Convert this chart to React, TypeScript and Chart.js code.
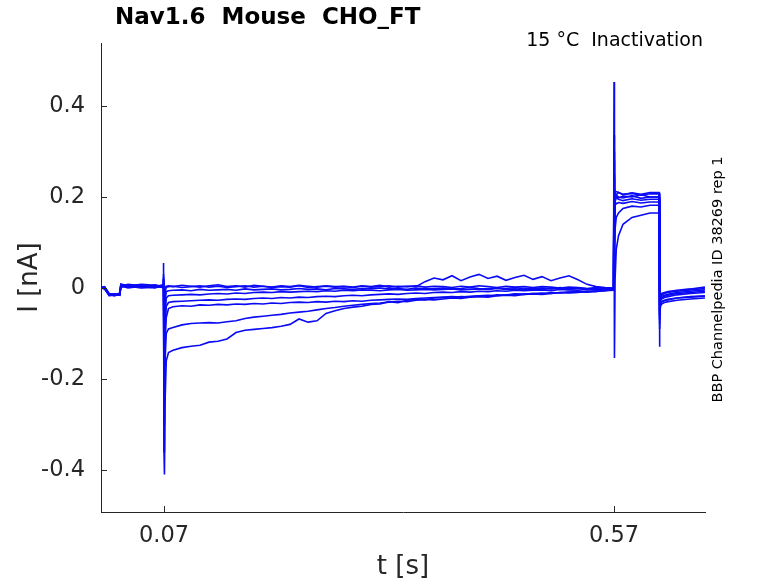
import React, { useEffect, useRef } from "react";
import { Chart, registerables } from "chart.js";

Chart.register(...registerables);

// time samples (s): pre, step-on transient, prepulse, test pulse, after test pulse
const timeS = [
  0, 0.004, 0.008, 0.009, 0.015, 0.021, 0.022, 0.03, 0.045, 0.06, 0.069,
  0.0695, 0.07, 0.0705, 0.0712, 0.0725, 0.075,
  0.08, 0.09, 0.1, 0.11, 0.12, 0.13, 0.14, 0.15, 0.16, 0.17,
  0.18, 0.19, 0.2, 0.21, 0.22, 0.23, 0.24, 0.25, 0.26, 0.27,
  0.28, 0.29, 0.3, 0.31, 0.32, 0.33, 0.34, 0.35, 0.36, 0.37,
  0.38, 0.39, 0.4, 0.41, 0.42, 0.43, 0.44, 0.45, 0.46, 0.47,
  0.48, 0.49, 0.5, 0.51, 0.52, 0.53, 0.54, 0.55, 0.56,
  0.5695, 0.57, 0.5705, 0.5712, 0.5725, 0.575, 0.58, 0.59, 0.6, 0.61,
  0.62, 0.6205, 0.621, 0.6217, 0.623, 0.626, 0.63, 0.64, 0.655, 0.671,
];

// current traces (nA)
const traceA = [
  0.001, -0.002, -0.012, -0.015, -0.017, -0.014, 0.004, 0.002, 0.006, 0.001, 0.004,
  0.055, -0.36, -0.41, -0.25, -0.16, -0.142,
  -0.137, -0.131, -0.128, -0.126, -0.119, -0.117, -0.112, -0.098, -0.093, -0.091,
  -0.089, -0.087, -0.084, -0.08, -0.068, -0.075, -0.072, -0.056, -0.05, -0.045,
  -0.042, -0.04, -0.036, -0.035, -0.03, -0.032, -0.027, -0.025, -0.026, -0.022,
  -0.021, -0.022, -0.019, -0.02, -0.017, -0.018, -0.015, -0.016, -0.013, -0.014,
  -0.012, -0.013, -0.01, -0.011, -0.009, -0.01, -0.007, -0.008, -0.005,
  -0.004, 0.453, 0.05, 0.2, 0.205, 0.2, 0.198, 0.203, 0.197, 0.2,
  0.2, -0.129, -0.06, -0.04, -0.035, -0.032, -0.03, -0.027, -0.024, -0.022,
];
const traceB = [
  0.003, 0.0, -0.01, -0.013, -0.015, -0.012, 0.006, 0.003, 0.001, 0.007, 0.002,
  0.02, -0.36, -0.3, -0.16, -0.1, -0.09,
  -0.087, -0.081, -0.078, -0.077, -0.076, -0.077, -0.074, -0.072, -0.067, -0.064,
  -0.062, -0.06, -0.058, -0.055, -0.053, -0.051, -0.048, -0.045, -0.043, -0.04,
  -0.038, -0.036, -0.034, -0.033, -0.031, -0.029, -0.03, -0.027, -0.025, -0.026,
  -0.024, -0.022, -0.023, -0.02, -0.019, -0.02, -0.017, -0.016, -0.017, -0.014,
  -0.013, -0.014, -0.012, -0.01, -0.011, -0.009, -0.008, -0.007, -0.006,
  -0.003, 0.336, 0.1, 0.19, 0.205, 0.21, 0.206, 0.208, 0.204, 0.207,
  0.207, -0.09, -0.05, -0.035, -0.03, -0.028, -0.026, -0.022, -0.019, -0.017,
];
const traceC = [
  -0.001, 0.002, -0.011, -0.014, -0.016, -0.013, 0.002, 0.005, 0.003, 0.0, 0.006,
  0.03, -0.3, -0.25, -0.12, -0.065, -0.045,
  -0.041, -0.039, -0.04, -0.037, -0.038, -0.036, -0.037, -0.035, -0.036, -0.034,
  -0.035, -0.033, -0.034, -0.032, -0.031, -0.032, -0.03, -0.031, -0.029, -0.03,
  -0.028, -0.029, -0.027, -0.026, -0.025, -0.024, -0.025, -0.023, -0.022, -0.021,
  -0.02, -0.019, -0.02, -0.018, -0.017, -0.016, -0.017, -0.015, -0.014, -0.013,
  -0.012, -0.011, -0.012, -0.01, -0.009, -0.008, -0.009, -0.007, -0.006,
  -0.005, 0.28, 0.15, 0.2, 0.198, 0.195, 0.192, 0.196, 0.193, 0.195,
  0.195, -0.08, -0.04, -0.028, -0.024, -0.021, -0.019, -0.015, -0.012, -0.01,
];
const traceD = [
  0.002, -0.001, -0.013, -0.016, -0.014, -0.015, 0.005, 0.0, 0.004, 0.003, 0.001,
  0.025, -0.25, -0.2, -0.09, -0.04, -0.032,
  -0.03, -0.029, -0.028, -0.027, -0.026, -0.027, -0.025, -0.024, -0.025, -0.023,
  -0.022, -0.023, -0.021, -0.022, -0.02, -0.021, -0.019, -0.018, -0.019, -0.017,
  -0.016, -0.017, -0.015, -0.014, -0.013, -0.014, -0.012, -0.011, -0.012, -0.01,
  -0.009, -0.01, -0.008, -0.009, -0.007, -0.008, -0.006, -0.007, -0.005, -0.006,
  -0.005, -0.004, -0.006, -0.003, -0.004, -0.005, -0.003, -0.004, -0.003,
  -0.002, 0.25, 0.18, 0.21, 0.212, 0.21, 0.205, 0.209, 0.206, 0.21,
  0.21, -0.07, -0.035, -0.022, -0.018, -0.016, -0.014, -0.01, -0.007, -0.004,
];
const traceE = [
  0.0, 0.003, -0.009, -0.012, -0.015, -0.011, 0.003, 0.006, 0.002, 0.005, 0.003,
  0.02, -0.2, -0.15, -0.06, -0.022, -0.017,
  -0.016, -0.015, -0.014, -0.015, -0.013, -0.012, -0.013, -0.011, -0.012, -0.01,
  -0.009, -0.01, -0.008, -0.009, -0.008, -0.007, -0.008, -0.006, -0.007, -0.005,
  -0.006, -0.004, -0.005, -0.006, -0.004, -0.003, -0.005, -0.004, -0.003, -0.004,
  -0.003, -0.002, -0.004, -0.003, -0.002, -0.003, -0.001, -0.003, -0.002, -0.004,
  -0.002, -0.003, -0.001, -0.002, -0.003, -0.001, -0.002, -0.003, -0.002,
  -0.003, 0.22, 0.2, 0.19, 0.185, 0.188, 0.186, 0.19, 0.187, 0.189,
  0.189, -0.06, -0.03, -0.02, -0.015, -0.012, -0.01, -0.007, -0.004, -0.001,
];
const traceF = [
  0.001, -0.002, -0.014, -0.017, -0.016, -0.012, 0.007, 0.004, 0.0, 0.002, 0.005,
  0.015, -0.15, -0.1, -0.03, -0.008, -0.006,
  -0.005, -0.004, -0.006, -0.003, -0.005, -0.004, -0.003, -0.005, -0.002, -0.004,
  -0.003, -0.002, -0.004, -0.003, -0.001, -0.003, -0.002, -0.004, -0.001, -0.002,
  -0.003, -0.001, -0.002, 0.0, -0.002, -0.001, -0.003, 0.0, -0.002, -0.001,
  0.0, -0.002, -0.001, 0.001, -0.001, -0.002, 0.0, -0.001, 0.001, -0.002,
  -0.001, 0.0, -0.002, 0.001, -0.001, 0.0, -0.002, -0.001, 0.0,
  -0.001, 0.3, -0.154, 0.02, 0.085, 0.115, 0.14, 0.155, 0.16, 0.165,
  0.165, -0.05, -0.025, -0.016, -0.012, -0.01, -0.008, -0.005, -0.002, 0.002,
];
const traceG = [
  0.002, 0.001, -0.011, -0.013, -0.017, -0.014, 0.004, 0.008, 0.005, 0.003, 0.007,
  0.02, -0.12, -0.06, -0.01, 0.002, 0.003,
  0.004, 0.001, 0.003, 0.005, 0.002, 0.004, 0.001, 0.003, 0.005, 0.002,
  0.004, 0.001, 0.003, 0.002, 0.005, 0.001, 0.003, 0.004, 0.002, 0.003,
  0.001, 0.004, 0.002, 0.003, 0.005, 0.002, 0.004, 0.003, 0.014, 0.022,
  0.018, 0.027, 0.016, 0.024, 0.03, 0.021, 0.026, 0.017, 0.023, 0.028,
  0.019, 0.025, 0.016, 0.022, 0.027, 0.018, 0.008, 0.003, 0.001,
  0.0, 0.2, 0.06, 0.13, 0.155, 0.165, 0.175, 0.18, 0.178, 0.182,
  0.182, -0.06, -0.035, -0.025, -0.021, -0.018, -0.016, -0.012, -0.01, -0.007,
];
const traceH = [
  -0.001, 0.002, -0.01, -0.014, -0.013, -0.016, 0.009, 0.005, 0.008, 0.006, 0.004,
  0.01, -0.08, -0.03, 0.0, 0.004, 0.005,
  0.003, 0.006, 0.004, 0.002, 0.005, 0.007, 0.003, 0.005, 0.002, 0.006,
  0.004, 0.002, 0.005, 0.003, 0.006, 0.004, 0.002, 0.005, 0.003, 0.004,
  0.002, 0.005, 0.003, 0.006, 0.002, 0.004, 0.003, 0.005, 0.002, 0.004,
  0.003, 0.001, 0.004, 0.002, 0.005, 0.003, 0.001, 0.004, 0.002, 0.003,
  0.001, 0.003, 0.002, 0.0, 0.002, 0.001, -0.001, 0.001, 0.0,
  -0.002, 0.24, 0.12, 0.19, 0.2, 0.198, 0.202, 0.2, 0.205, 0.2,
  0.2, -0.07, -0.045, -0.035, -0.03, -0.027, -0.025, -0.022, -0.02, -0.018,
];

const traces = [traceA, traceB, traceC, traceD, traceE, traceF, traceG, traceH];

const xTickValues = [0.07, 0.57];
const yTickValues = [-0.4, -0.2, 0, 0.2, 0.4];

const chartTitle = "Nav1.6  Mouse  CHO_FT";
const subTitle = "15 °C  Inactivation";
const sideNote = "BBP Channelpedia ID 38269 rep 1";
const xTitle = "t [s]";
const yTitle = "I [nA]";

export default function App() {
  const ref = useRef<HTMLCanvasElement>(null);

  useEffect(() => {
    const canvas = ref.current;
    if (!canvas) return;
    const axisColor = "#262626";
    const font = "'DejaVu Sans', sans-serif";

    const decorations = {
      id: "decorations",
      afterDraw(chart: any) {
        const { ctx, chartArea, scales } = chart;
        ctx.save();
        ctx.strokeStyle = axisColor;
        ctx.lineWidth = 1;
        for (const t of scales.x.ticks) {
          const px = Math.round(scales.x.getPixelForValue(t.value)) + 0.5;
          ctx.beginPath();
          ctx.moveTo(px, chartArea.bottom);
          ctx.lineTo(px, chartArea.bottom - 6);
          ctx.stroke();
        }
        for (const t of scales.y.ticks) {
          const py = Math.round(scales.y.getPixelForValue(t.value)) + 0.5;
          ctx.beginPath();
          ctx.moveTo(chartArea.left, py);
          ctx.lineTo(chartArea.left + 6, py);
          ctx.stroke();
        }
        ctx.fillStyle = "#000";
        ctx.textBaseline = "middle";
        ctx.textAlign = "left";
        ctx.font = `bold 23px ${font}`;
        ctx.fillText(chartTitle, chartArea.left + 14, 18);
        ctx.font = `19px ${font}`;
        ctx.textAlign = "right";
        ctx.fillText(subTitle, chartArea.right - 2, 41);
        ctx.save();
        ctx.translate(chartArea.right + 13, (chartArea.top + chartArea.bottom) / 2 + 2);
        ctx.rotate(-Math.PI / 2);
        ctx.textAlign = "center";
        ctx.font = `14.5px ${font}`;
        ctx.fillText(sideNote, 0, 0);
        ctx.restore();
        ctx.restore();
      },
    };

    const chart = new Chart(canvas, {
      type: "line",
      data: {
        datasets: traces.map((tr, i) => ({
          label: `trace ${i + 1}`,
          data: tr.map((v, k) => ({ x: timeS[k], y: v })),
          borderColor: "#0a0af5",
          borderWidth: 1.6,
          pointRadius: 0,
          tension: 0,
          fill: false,
        })),
      },
      options: {
        animation: false,
        responsive: false,
        devicePixelRatio: 1,
        parsing: false as any,
        layout: { padding: { left: 0, top: 43, right: 73, bottom: 0 } },
        plugins: {
          legend: { display: false },
          tooltip: { enabled: false },
          title: { display: false },
        },
        scales: {
          x: {
            type: "linear",
            min: 0,
            max: 0.6711,
            afterBuildTicks: (s: any) => {
              s.ticks = xTickValues.map((v) => ({ value: v }));
            },
            afterFit: (s: any) => {
              s.height = 71;
            },
            ticks: {
              color: axisColor,
              font: { family: font, size: 22.5 },
              padding: 11,
              maxRotation: 0,
              autoSkip: false,
              callback: (v: any) => Number(v).toFixed(2),
            },
            grid: { display: false, drawTicks: false },
            border: { display: true, color: axisColor, width: 1 },
            title: {
              display: true,
              text: xTitle,
              color: axisColor,
              font: { family: font, size: 26 },
              padding: { top: 4, bottom: 0 },
            },
          },
          y: {
            type: "linear",
            min: -0.4923,
            max: 0.5385,
            afterBuildTicks: (s: any) => {
              s.ticks = yTickValues.map((v) => ({ value: v }));
            },
            afterFit: (s: any) => {
              s.width = 101;
            },
            ticks: {
              color: axisColor,
              font: { family: font, size: 22.5 },
              padding: 16,
              autoSkip: false,
              callback: (v: any) => (Math.abs(Number(v)) < 1e-9 ? "0" : Number(v).toFixed(1)),
            },
            grid: { display: false, drawTicks: false },
            border: { display: true, color: axisColor, width: 1 },
            title: {
              display: true,
              text: yTitle,
              color: axisColor,
              font: { family: font, size: 26 },
              padding: { top: 15, bottom: 0 },
            },
          },
        },
      },
      plugins: [decorations],
    });

    return () => chart.destroy();
  }, []);

  return (
    <div style={{ position: "absolute", left: 0, top: 0, width: 778, height: 583, background: "#fff" }}>
      <canvas ref={ref} width={778} height={583} style={{ display: "block" }} />
    </div>
  );
}
